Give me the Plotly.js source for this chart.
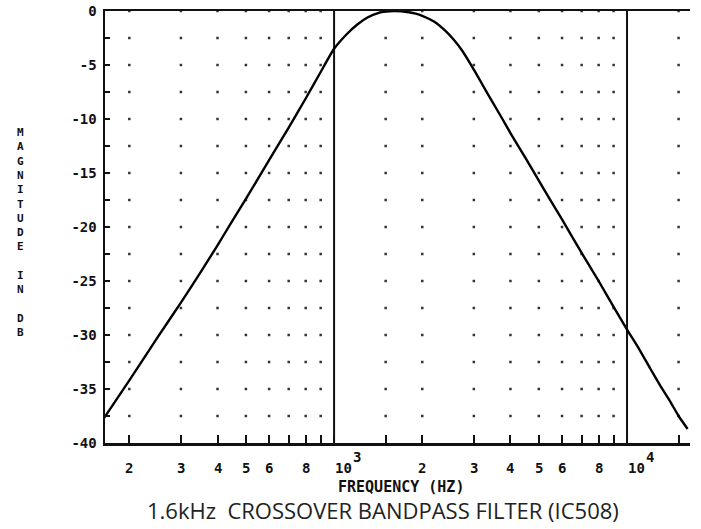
<!DOCTYPE html>
<html>
<head>
<meta charset="utf-8">
<script src="https://cdn.plot.ly/plotly-3.0.1.min.js"></script>
<style>
  html, body { margin: 0; padding: 0; background: #ffffff; }
  #chart { width: 701px; height: 529px; }
</style>
</head>
<body>
<div id="chart"></div>
<script>
// Magnitude response of the 1.6 kHz crossover bandpass filter (IC508)
const freqHz = [162, 200, 250, 300, 350, 400, 450, 500, 600, 700, 800, 900, 1000,
  1100, 1200, 1300, 1420, 1500, 1600, 1700, 1800, 1900, 2000, 2200, 2400, 2550,
  2750, 2950, 3100, 3300, 3700, 4000, 4500, 5000, 5500, 6000, 7000, 8000, 9000, 10000,
  11000, 12000, 13000, 14000, 15000, 16100];
const magDb = [-37.9, -34.2, -30.2, -27.0, -24.2, -21.7, -19.4, -17.4, -13.8, -10.8, -8.1, -5.65, -3.5,
  -2.2, -1.25, -0.6, -0.17, -0.05, 0, -0.03, -0.12, -0.25, -0.45, -1.0, -1.85, -2.6,
  -3.75, -5.1, -6.1, -7.4, -9.7, -11.3, -13.6, -15.7, -17.6, -19.3, -22.4, -25.0, -27.4, -29.5,
  -31.3, -33.1, -34.7, -36.1, -37.5, -38.7];

// Axis ticks and labels
const xTickHz = [200, 300, 400, 500, 600, 700, 800, 900, 1000, 1500, 2000, 3000, 4000,
  5000, 6000, 7000, 8000, 9000, 10000, 15000];
const xLabelHz = [200, 300, 400, 500, 600, 800, 2000, 3000, 4000, 5000, 6000, 8000];
const xLabelText = ['2', '3', '4', '5', '6', '8', '2', '3', '4', '5', '6', '8'];
const decadeHz = [1000, 10000];
const decadeMantissa = ['10', '10'];
const decadeExponent = ['3', '4'];
const yTickDb = [0, -2.5, -5, -7.5, -10, -12.5, -15, -17.5, -20, -22.5, -25, -27.5,
  -30, -32.5, -35, -37.5, -40];
const yTickText = ['0', '', '-5', '', '-10', '', '-15', '', '-20', '', '-25', '', '-30',
  '', '-35', '', '-40'];

// Dotted grid: one dot per minor frequency and per 2.5 dB step
const dotColsHz = [200, 300, 400, 500, 600, 700, 800, 900, 1500, 2000, 3000, 4000,
  5000, 6000, 7000, 8000, 9000, 15000];
const dotRowsDb = [0, -2.5, -5, -7.5, -10, -12.5, -15, -17.5, -20, -22.5, -25, -27.5,
  -30, -32.5, -35, -37.5];

const plotterFont = { family: 'DejaVu Sans Mono, monospace', size: 14, color: '#111', weight: 'bold' };

const dotX = [], dotY = [];
dotColsHz.forEach(f => dotRowsDb.forEach(d => { dotX.push(f); dotY.push(d); }));

const traces = [
  {
    x: dotX, y: dotY, type: 'scatter', mode: 'markers', hoverinfo: 'skip',
    marker: { symbol: 'square', size: 2.5, color: '#333', line: { width: 0 } }
  }
];
decadeHz.forEach(f => traces.push({
  x: [f, f], y: [-40, 0], type: 'scatter', mode: 'lines', hoverinfo: 'skip',
  line: { color: '#111', width: 2 }
}));
traces.push({
  x: freqHz, y: magDb, type: 'scatter', mode: 'lines',
  line: { color: '#000', width: 2.4, shape: 'spline', smoothing: 0.5 }
});

const annotations = [];
xLabelHz.forEach((f, i) => annotations.push({
  x: Math.log10(f), y: -0.058, xref: 'x', yref: 'paper', text: xLabelText[i],
  showarrow: false, xanchor: 'center', yanchor: 'middle', font: plotterFont
}));
decadeHz.forEach((f, i) => {
  annotations.push({
    x: Math.log10(f), y: -0.058, xref: 'x', yref: 'paper', text: decadeMantissa[i],
    showarrow: false, xanchor: 'left', yanchor: 'middle', xshift: -1, font: plotterFont
  });
  annotations.push({
    x: Math.log10(f), y: -0.032, xref: 'x', yref: 'paper', text: decadeExponent[i],
    showarrow: false, xanchor: 'center', yanchor: 'middle', xshift: 23, font: plotterFont
  });
});
annotations.push({
  x: 0.506, y: -0.102, xref: 'paper', yref: 'paper', text: 'FREQUENCY (HZ)',
  showarrow: false, xanchor: 'center', yanchor: 'middle',
  font: { family: 'DejaVu Sans Mono, monospace', size: 15, color: '#111', weight: 'bold' }
});
const yTitleLetters = ['M', 'A', 'G', 'N', 'I', 'T', 'U', 'D', 'E', '\u00a0', 'I', 'N', '\u00a0', 'D', 'B'];
annotations.push({
  x: -0.145, y: 0.488, xref: 'paper', yref: 'paper', text: yTitleLetters.join('<br>'),
  showarrow: false, xanchor: 'center', yanchor: 'middle', align: 'center',
  font: { family: 'DejaVu Sans Mono, monospace', size: 11, color: '#111', weight: 'bold' }
});

const layout = {
  width: 701, height: 529,
  margin: { l: 105, r: 11, t: 11, b: 86 },
  paper_bgcolor: '#ffffff', plot_bgcolor: '#ffffff',
  showlegend: false,
  title: {
    text: '1.6kHz  CROSSOVER BANDPASS FILTER (IC508)',
    font: { family: 'Open Sans, sans-serif', size: 22, color: '#222' },
    x: 0.475, xref: 'paper', xanchor: 'center',
    y: 1 - 511 / 529, yref: 'container', yanchor: 'middle'
  },
  xaxis: {
    type: 'log', range: [2.218, 4.215],
    showgrid: false, zeroline: false,
    showline: true, linecolor: '#111', linewidth: 2.5, mirror: true,
    ticks: 'inside', ticklen: 8, tickwidth: 2, tickcolor: '#111',
    tickmode: 'array', tickvals: xTickHz, showticklabels: false
  },
  yaxis: {
    range: [-40, 0],
    showgrid: false, zeroline: false,
    showline: true, linecolor: '#111', linewidth: 2.5,
    ticks: 'inside', ticklen: 5, tickwidth: 2, tickcolor: '#111',
    tickmode: 'array', tickvals: yTickDb, ticktext: yTickText,
    tickfont: plotterFont, ticklabelstandoff: 3
  },
  annotations: annotations
};

Plotly.newPlot('chart', traces, layout, { displayModeBar: false, staticPlot: true });
</script>
</body>
</html>
